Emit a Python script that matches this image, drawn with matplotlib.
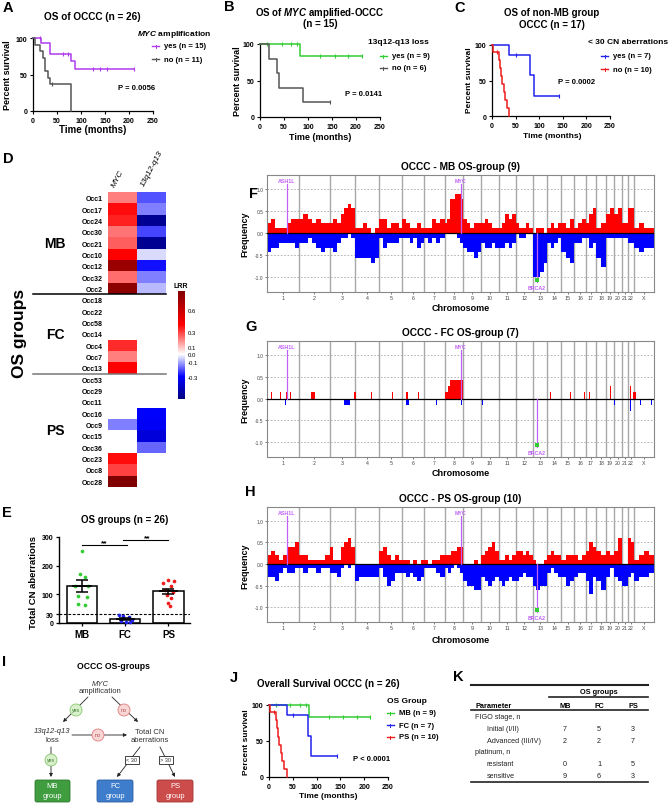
import numpy as np
import matplotlib.pyplot as plt
from matplotlib.lines import Line2D
from matplotlib.patches import Circle, FancyBboxPatch
from matplotlib.colors import LinearSegmentedColormap, Normalize
from matplotlib.transforms import blended_transform_factory

plt.rcParams['font.family'] = ['Liberation Sans', 'DejaVu Sans']
plt.rcParams['mathtext.fontset'] = 'custom'
plt.rcParams['mathtext.rm'] = 'Liberation Sans'
plt.rcParams['mathtext.it'] = 'Liberation Sans:italic'
plt.rcParams['mathtext.bf'] = 'Liberation Sans:bold'
if 'mathtext.bfit' in plt.rcParams:
    plt.rcParams['mathtext.bfit'] = 'Liberation Sans:italic:bold'

nan = np.nan

# ---------------- data ----------------
# Kaplan-Meier curves: event times (months), percent survival, censored times
A_yes_t = [0, 17, 36, 80, 87, 210]
A_yes_s = [100, 93.3, 77.8, 68.9, 57.4, 57.4]
A_yes_c = [14, 62, 72, 125, 140, 155, 210]
A_no_t = [0, 5, 15, 21, 26, 31, 35, 80]
A_no_s = [100, 90.9, 81.8, 72.7, 54.5, 45.5, 36.4, 0]
A_no_c = [40]

MB_t = [0, 83, 212]
MB_s = [100, 83.3, 83.3]
MB_c = [14, 45, 65, 78, 125, 156, 184, 212]
B_no_t = [0, 19, 36, 40, 89, 146]
B_no_s = [100, 80, 60, 40, 20, 20]
B_no_c = [146]
FC_t = [0, 37, 81, 88, 143]
FC_s = [100, 85.7, 57.1, 28.6, 28.6]
FC_c = [51, 143]
PS_t = [0, 3, 14, 16, 19, 22, 25, 28, 32, 37]
PS_s = [100, 90, 78.75, 67.5, 56.25, 45, 33.75, 22.5, 11.25, 0]
PS_c = [10]

time_ticks = [0, 50, 100, 150, 200, 250]
surv_ticks = [0, 50, 100]

# heatmap (log R ratio)
occ_ids = ['Occ1', 'Occ17', 'Occ24', 'Occ30', 'Occ21', 'Occ10', 'Occ12', 'Occ32', 'Occ2',
           'Occ18', 'Occ22', 'Occ58', 'Occ14', 'Occ4', 'Occ7', 'Occ13',
           'Occ53', 'Occ29', 'Occ11', 'Occ16', 'Occ9', 'Occ15', 'Occ36', 'Occ23', 'Occ8', 'Occ28']
myc_lrr = [0.2, 0.38, 0.35, 0.22, 0.25, 0.4, 0.75, 0.23, 0.8,
           nan, nan, nan, nan, 0.33, 0.2, 0.4,
           nan, nan, nan, nan, -0.15, nan, nan, 0.38, 0.3, 0.85]
q13_lrr = [-0.2, -0.15, -0.55, -0.22, -0.55, -0.04, -0.28, -0.15, -0.08,
           nan, nan, nan, nan, nan, nan, nan,
           nan, nan, nan, -0.3, -0.32, -0.38, -0.18, nan, nan, nan]
group_names = ['MB', 'FC', 'PS']
group_sizes = [9, 7, 10]
lrr_ticks = [0.6, 0.3, 0.1, 0.0, -0.1, -0.3]

# total CN aberrations
e_mb = [252, 172, 160, 130, 128, 95, 90, 67, 62]
e_fc = [28, 25, 22, 12, 8, 5, 3]
e_ps = [150, 145, 140, 128, 115, 108, 98, 88, 70, 58]
e_ticks = [0, 30, 100, 200, 300]

# genome
chrom_names = [str(i) for i in range(1, 23)] + ['X']
chrom_len = [249, 243, 198, 191, 181, 171, 159, 146, 141, 136, 135, 134,
             115, 107, 103, 90, 81, 78, 59, 63, 48, 51, 155]
gene_names = ['ASH1L', 'MYC', 'BRCA2']
gene_chr = [1, 8, 13]
gene_mb = [155, 128, 33]
gene_dir = [1, 1, -1]

mb_gain = [[0.22, 0.33, 0.11, 0.11, 0.11, 0.22, 0.33, 0.33], [0.33, 0.44, 0.33, 0.22, 0.33, 0.22, 0.22],
           [0.22, 0.33, 0.22, 0.44, 0.56, 0.67, 0.56], [0.11, 0.11, 0.22, 0.11, 0.0, 0.11],
           [0.33, 0.33, 0.11, 0.22, 0.22, 0.11], [0.33, 0.22, 0.11, 0.11, 0.22, 0.11],
           [0.11, 0.11, 0.33, 0.22, 0.33], [0.22, 0.33, 0.78, 0.78, 0.89, 0.89, 0.78],
           [0.33, 0.22, 0.11, 0.22, 0.22], [0.22, 0.33, 0.22, 0.11, 0.11], [0.11, 0.22, 0.44, 0.33, 0.44],
           [0.22, 0.11, 0.11, 0.22, 0.11], [0.0, 0.11, 0.11, 0.0], [0.11, 0.22, 0.11, 0.22],
           [0.22, 0.11, 0.33], [0.11, 0.22, 0.33], [0.22, 0.44, 0.56], [0.11, 0.22], [0.44, 0.56],
           [0.44, 0.56], [0.22], [0.56], [0.11, 0.22, 0.11, 0.11]]
mb_loss = [[-0.44, -0.33, -0.33, -0.22, -0.22, -0.22, -0.22, -0.33], [-0.22, -0.22, -0.11, -0.22, -0.33, -0.44, -0.33],
           [-0.33, -0.44, -0.22, -0.11, -0.11, 0.0, -0.11], [-0.56, -0.56, -0.56, -0.56, -0.67, -0.56],
           [-0.11, -0.33, -0.22, -0.22, -0.22, -0.11], [-0.11, -0.11, -0.22, -0.11, -0.33, -0.22],
           [-0.11, -0.22, -0.11, -0.22, -0.11], [0.0, 0.0, 0.0, 0.0, -0.11, -0.22],
           [-0.33, -0.44, -0.44, -0.56, -0.44], [-0.22, -0.33, -0.33, -0.22, -0.33], [-0.33, -0.33, -0.22, -0.33, -0.22],
           [0.0, -0.11, -0.11, 0.0, 0.0], [-1.0, -1.0, -0.89, -0.67], [-0.22, -0.33, -0.22, -0.11],
           [-0.44, -0.56, -0.67], [-0.22, -0.22, -0.11], [-0.11, -0.33, -0.22], [-0.56, -0.78], [-0.11, -0.11],
           [-0.11, -0.11], [-0.11], [-0.22], [-0.33, -0.44, -0.33, -0.33]]

# FC group: sparse segments (chromosome, start Mb, end Mb, frequency)
fc_gain = [(1, 33, 36, 0.14), (1, 103, 106, 0.14), (1, 150, 153, 0.14), (1, 182, 185, 0.14),
           (2, 98, 130, 0.14), (2, 210, 213, 0.14), (3, 56, 59, 0.14), (3, 103, 106, 0.14),
           (3, 192, 198, 0.14), (4, 0, 8, 0.14), (4, 127, 130, 0.14), (5, 27, 30, 0.14),
           (5, 100, 103, 0.14), (6, 30, 43, 0.14), (6, 123, 126, 0.14), (8, 5, 25, 0.14),
           (8, 25, 40, 0.28), (8, 40, 144, 0.43), (10, 52, 55, 0.14), (10, 105, 108, 0.14),
           (11, 47, 50, 0.14), (11, 112, 115, 0.14), (12, 56, 59, 0.14), (13, 21, 24, 0.14),
           (13, 92, 95, 0.14), (14, 21, 24, 0.14), (15, 67, 80, 0.14), (16, 41, 44, 0.14),
           (16, 80, 83, 0.14), (17, 29, 32, 0.14), (17, 69, 72, 0.28), (18, 27, 30, 0.14),
           (18, 66, 69, 0.14), (19, 28, 41, 0.28), (20, 47, 50, 0.28), (21, 10, 13, 0.14),
           (22, 19, 22, 0.28), (22, 41, 51, 0.14), ('X', 0, 16, 0.14)]
fc_loss = [(1, 145, 148, -0.14), (3, 71, 74, -0.14), (3, 109, 156, -0.14), (6, 30, 48, -0.14),
           (7, 93, 96, -0.14), (8, 130, 133, -0.14), (10, 8, 11, -0.14), (10, 34, 37, -0.14),
           (11, 55, 58, -0.14), (12, 30, 33, -0.14), (14, 102, 104, -0.43), (15, 19, 22, -0.14),
           (18, 14, 17, -0.14), (18, 53, 56, -0.14), (20, 7, 10, -0.14), (21, 18, 21, -0.14),
           (22, 19, 22, -0.28), ('X', 47, 50, -0.14), ('X', 133, 136, -0.14)]

ps_gain = [[0.2, 0.3, 0.2, 0.1, 0.2, 0.4, 0.4, 0.5], [0.2, 0.2, 0.1, 0.1, 0.1, 0.1, 0.2],
           [0.4, 0.1, 0.1, 0.4, 0.5, 0.6, 0.4], [0.0, 0.0, 0.0, 0.0, 0.0, 0.0],
           [0.3, 0.4, 0.2, 0.1, 0.2, 0.1], [0.1, 0.1, 0.0, 0.1, 0.0, 0.1], [0.1, 0.0, 0.1, 0.1, 0.2],
           [0.2, 0.2, 0.3, 0.3, 0.4, 0.4], [0.0, 0.0, 0.0, 0.1, 0.0], [0.2, 0.3, 0.4, 0.5, 0.3],
           [0.1, 0.1, 0.2, 0.1, 0.2], [0.3, 0.3, 0.2, 0.3, 0.2], [0.1, 0.0, 0.0, 0.1], [0.2, 0.3, 0.2, 0.2],
           [0.1, 0.2, 0.2], [0.2, 0.1, 0.2], [0.3, 0.5, 0.4], [0.3, 0.2], [0.3, 0.2], [0.3, 0.6],
           [0.0], [0.6, 0.5], [0.1, 0.2, 0.3, 0.2]]
ps_loss = [[-0.3, -0.3, -0.4, -0.2, -0.1, -0.2, -0.2, -0.1], [-0.1, -0.2, -0.1, -0.1, -0.2, -0.1, -0.1],
           [-0.2, -0.2, -0.3, -0.1, 0.0, -0.1, 0.0], [-0.4, -0.3, -0.3, -0.3, -0.3, -0.3],
           [-0.1, -0.3, -0.5, -0.4, -0.2, -0.2], [-0.2, -0.3, -0.2, -0.3, -0.4, -0.3],
           [-0.1, -0.1, -0.1, -0.2, -0.3], [-0.1, -0.2, -0.1, 0.0, -0.1, -0.2], [-0.4, -0.5, -0.5, -0.6, -0.6],
           [-0.3, -0.4, -0.5, -0.4, -0.3], [-0.4, -0.5, -0.4, -0.3, -0.4], [-0.4, -0.3, -0.2, -0.3, -0.3],
           [-0.5, -0.6, -0.5, -0.5], [-0.2, -0.1, -0.2, -0.3], [-0.3, -0.5, -0.4], [-0.3, -0.2, -0.2],
           [-0.4, -0.7, -0.3], [-0.4, -0.6], [-0.3, -0.1], [-0.3, -0.4], [-0.5], [-0.3, -0.2],
           [-0.4, -0.3, -0.3, -0.2]]

# table K
table_params = ['FIGO stage, n', 'Initial (I/II)', 'Advanced (III/IV)', 'platinum, n', 'resistant', 'sensitive']
table_mb = ['', '7', '2', '', '0', '9']
table_fc = ['', '5', '2', '', '1', '6']
table_ps = ['', '3', '7', '', '5', '3']

# ---------------- styling ----------------
PURPLE = '#B23AEE'
GRAY = '#555555'
GREEN = '#33CC33'
BLUE = '#2222EE'
RED = '#EE1C1C'
VIOLET = '#C060F8'

W, H = 669, 804
fig = plt.figure(figsize=(W / 100, H / 100), dpi=100)


def px_axes(l, t, r, b):
    return fig.add_axes([l / W, 1 - b / H, (r - l) / W, (b - t) / H])


def ftext(x, y, s, **kw):
    kw.setdefault('ha', 'center')
    kw.setdefault('va', 'center')
    return fig.text(x / W, 1 - y / H, s, **kw)


def fline(xs, ys, **kw):
    fig.add_artist(Line2D([x / W for x in xs], [1 - y / H for y in ys], transform=fig.transFigure, **kw))


def km_axes(l, t, r, b):
    ax = px_axes(l, t, r, b)
    ax.set_xlim(0, 250)
    ax.set_ylim(0, 100)
    for sp in ['top', 'right']:
        ax.spines[sp].set_visible(False)
    for sp in ['left', 'bottom']:
        ax.spines[sp].set_linewidth(0.9)
    ax.set_xticks(time_ticks, labels=[str(v) for v in time_ticks], fontsize=5, fontweight='bold')
    ax.set_yticks(surv_ticks, labels=[str(v) for v in surv_ticks], fontsize=5, fontweight='bold')
    ax.tick_params(length=2.5, width=0.8, pad=1.5)
    return ax


def km(ax, t, s, cens, color):
    ax.step(t, s, where='post', color=color, lw=1.1, clip_on=False, zorder=3)
    idx = np.searchsorted(t, cens, side='right') - 1
    ax.plot(cens, np.array(s)[idx], ls='none', marker='|', ms=3, mew=0.8,
            color=color, clip_on=False, zorder=3)


def km_legend(title, tx, ty, labels, colors, hx, ys):
    ftext(tx, ty, title, ha='left', fontsize=6, fontweight='bold')
    for lab, c, y in zip(labels, colors, ys):
        fline([hx, hx + 7], [y, y], color=c, lw=1)
        fline([hx + 3.5, hx + 3.5], [y - 1.5, y + 1.5], color=c, lw=0.7)
        ftext(hx + 12, y, lab, ha='left', fontsize=5.5, fontweight='bold')


# ---------------- A ----------------
axA = km_axes(33, 39, 153, 112)
km(axA, A_yes_t, A_yes_s, A_yes_c, PURPLE)
km(axA, A_no_t, A_no_s, A_no_c, GRAY)
ftext(92, 17, 'OS of OCCC (n = 26)', fontsize=7.2, fontweight='bold')
ftext(8, 75, 'Percent survival', rotation=90, fontsize=6.5, fontweight='bold')
ftext(93, 130, 'Time (months)', fontsize=7, fontweight='bold')
km_legend(r'$\mathbfit{MYC}$ amplification', 137, 34, ['yes (n = 15)', 'no (n = 11)'],
          [PURPLE, GRAY], 152, [47, 60])
ftext(118, 88, 'P = 0.0056', ha='left', fontsize=5.5, fontweight='bold')

# ---------------- B ----------------
axB = km_axes(260, 45, 380, 118)
km(axB, MB_t, MB_s, MB_c, GREEN)
km(axB, B_no_t, B_no_s, B_no_c, GRAY)
ftext(320, 13, r'OS of $\mathbfit{MYC}$ amplified-OCCC', fontsize=7, fontweight='bold')
ftext(320, 24, '(n = 15)', fontsize=7, fontweight='bold')
ftext(237, 81, 'Percent survival', rotation=90, fontsize=6.5, fontweight='bold')
ftext(320, 138, 'Time (months)', fontsize=6.5, fontweight='bold')
km_legend('13q12-q13 loss', 368, 42, ['yes (n = 9)', 'no (n = 6)'], [GREEN, GRAY], 380, [57, 69])
ftext(345, 94, 'P = 0.0141', ha='left', fontsize=5.5, fontweight='bold')

# ---------------- C ----------------
axC = km_axes(492, 46, 610, 117)
km(axC, FC_t, FC_s, FC_c, BLUE)
km(axC, PS_t, PS_s, PS_c, RED)
ftext(552, 13, 'OS of non-MB group', fontsize=7, fontweight='bold')
ftext(552, 25, 'OCCC (n = 17)', fontsize=7, fontweight='bold')
ftext(470, 80, 'Percent survival', rotation=90, fontsize=6, fontweight='bold')
ftext(552, 137, 'Time (months)', fontsize=6, fontweight='bold')
km_legend('< 30 CN aberrations', 588, 43, ['yes (n = 7)', 'no (n = 10)'], [BLUE, RED], 601, [57, 70])
ftext(558, 83, 'P = 0.0002', ha='left', fontsize=5.5, fontweight='bold')

# ---------------- J ----------------
axJ = km_axes(269, 706, 388, 778)
km(axJ, MB_t, MB_s, MB_c, GREEN)
km(axJ, FC_t, FC_s, FC_c, BLUE)
km(axJ, PS_t, PS_s, PS_c, RED)
ftext(328, 684, 'Overall Survival OCCC (n = 26)', fontsize=7, fontweight='bold')
ftext(246, 742, 'Percent survival', rotation=90, fontsize=6, fontweight='bold')
ftext(328, 797, 'Time (months)', fontsize=6, fontweight='bold')
km_legend('OS Group', 387, 702, ['MB (n = 9)', 'FC (n = 7)', 'PS (n = 10)'],
          [GREEN, BLUE, RED], 387, [714, 726, 738])
ftext(353, 760, 'P < 0.0001', ha='left', fontsize=5.5, fontweight='bold')

# ---------------- D heatmap ----------------
lrr_cmap = LinearSegmentedColormap.from_list(
    'lrr', [(0, '#000080'), (0.207, '#0000FF'), (0.414, '#FFFFFF'), (0.69, '#FF0000'), (1, '#800000')])
lrr_cmap.set_bad('white')
lrr_norm = Normalize(vmin=-0.6, vmax=0.85)
axD = px_axes(108, 193, 166, 488)
mat = np.ma.masked_invalid(np.array([myc_lrr, q13_lrr], dtype=float).T)
mesh = axD.pcolormesh(mat, cmap=lrr_cmap, norm=lrr_norm)
axD.set_xlim(0, 2)
axD.set_ylim(len(occ_ids), 0)
axD.set_yticks(np.arange(len(occ_ids)) + 0.5, labels=occ_ids, fontsize=5, fontweight='bold')
axD.set_xticks([])
axD.tick_params(length=0, pad=4)
for sp in axD.spines.values():
    sp.set_visible(False)
axD.text(0.3, -0.4, 'MYC', rotation=62, rotation_mode='anchor', ha='left', va='bottom',
         fontsize=6, style='italic')
axD.text(1.3, -0.4, '13q12-q13', rotation=62, rotation_mode='anchor', ha='left', va='bottom',
         fontsize=6, style='italic')
blend = blended_transform_factory(fig.transFigure, axD.transData)
bounds = np.cumsum(group_sizes)
starts = bounds - np.array(group_sizes)
for g, s0, s1 in zip(group_names, starts, bounds):
    axD.text(55 / W, (s0 + s1) / 2, g, transform=blend, ha='center', va='center',
             fontsize=10, fontweight='bold')
for b, col in zip(bounds[:-1], ['black', '#777777']):
    axD.add_artist(Line2D([33 / W, 166 / W], [b, b], transform=blend, color=col, lw=1.1, clip_on=False))
ftext(20, 333, 'OS groups', rotation=90, fontsize=12.5, fontweight='bold')

cax = px_axes(178, 292, 185, 400)
cb = fig.colorbar(mesh, cax=cax)
cb.set_ticks(lrr_ticks, labels=[f'{v:.1f}' for v in lrr_ticks])
cb.ax.tick_params(labelsize=4.3, length=0, pad=2)
cb.outline.set_visible(False)
ftext(181, 287, 'LRR', fontsize=5, fontweight='bold')

# ---------------- E ----------------
axE = px_axes(59, 538, 190, 624)
e_data = [e_mb, e_fc, e_ps]
e_cols = [GREEN, BLUE, RED]
e_jit = [[0.0, -0.05, 0.06, -0.16, 0.13, -0.09, 0.12, -0.1, 0.08],
         [-0.15, -0.05, 0.08, 0.15, -0.1, 0.02, 0.12],
         [0.0, 0.12, -0.12, 0.06, -0.08, 0.1, -0.04, 0.05, -0.02, 0.03]]
for i, (vals, c, jit) in enumerate(zip(e_data, e_cols, e_jit)):
    vals = np.array(vals, dtype=float)
    m = vals.mean()
    sem = vals.std(ddof=1) / np.sqrt(len(vals))
    axE.bar(i, m, width=0.7, facecolor='white', edgecolor='black', lw=1.1, zorder=1)
    axE.scatter(i + np.array(jit), vals, s=7, color=c, zorder=3, lw=0, clip_on=False)
    axE.errorbar(i, m, yerr=sem, color='black', capsize=4, capthick=1.1, lw=1.1, zorder=4)
    axE.plot([i - 0.2, i + 0.2], [m, m], color='black', lw=1.3, zorder=4)
axE.axhline(30, color='black', lw=0.8, ls=(0, (2.5, 1.5)), zorder=2)
axE.plot([0, 1.05], [272, 272], color='black', lw=0.8, clip_on=False)
axE.text(0.52, 279, '**', ha='center', va='center', fontsize=6, fontweight='bold')
axE.plot([0.95, 2], [290, 290], color='black', lw=0.8, clip_on=False)
axE.text(1.5, 298, '**', ha='center', va='center', fontsize=6, fontweight='bold')
axE.set_xlim(-0.53, 2.5)
axE.set_ylim(0, 300)
axE.set_xticks(range(3), labels=group_names, fontsize=7, fontweight='bold')
axE.set_yticks(e_ticks, labels=[str(v) for v in e_ticks], fontsize=5, fontweight='bold')
axE.tick_params(length=2.5, width=0.9, pad=1.5)
for sp in ['top', 'right']:
    axE.spines[sp].set_visible(False)
for sp in ['left', 'bottom']:
    axE.spines[sp].set_linewidth(1)
ftext(125, 520, 'OS groups (n = 26)', fontsize=7, fontweight='bold')
ftext(33, 583, 'Total CN aberrations', rotation=90, fontsize=6.8, fontweight='bold')

# ---------------- F / G / H genome ----------------
chrom_start = np.concatenate([[0], np.cumsum(chrom_len)[:-1]])
genome_end = float(np.sum(chrom_len))


def chrom_index(c):
    return chrom_names.index(str(c))


def genome_axes(l, t, r, b, title, ycen, ylab):
    ax = px_axes(l, t, r, b)
    ax.set_xlim(0, genome_end)
    ax.set_ylim(-1.34, 1.32)
    for v in [-1.0, -0.5, 0.5, 1.0]:
        ax.axhline(v, color='#aaaaaa', lw=0.6, ls=(0, (2, 2)), zorder=0)
    for x in chrom_start[1:]:
        ax.axvline(x, color='#a8a8a8', lw=1, zorder=1)
    ax.axhline(0, color='black', lw=0.9, zorder=5)
    ax.set_xticks(chrom_start + np.array(chrom_len) / 2, labels=chrom_names, fontsize=3.8)
    ax.set_yticks([-1.0, -0.5, 0.0, 0.5, 1.0], labels=['-1.0', '-0.5', '0.0', '0.5', '1.0'], fontsize=3.5)
    ax.tick_params(length=1.5, width=0.5, pad=1, colors='#444444')
    for sp in ax.spines.values():
        sp.set_color('#888888')
        sp.set_linewidth(0.8)
    ftext((l + r) / 2, t - 9, title, fontsize=7.3, fontweight='bold')
    ftext(245, ycen, 'Frequency', rotation=90, fontsize=6.5, fontweight='bold')
    ftext((l + r) / 2, ylab, 'Chromosome', fontsize=6.5, fontweight='bold')
    return ax


def binned(ax, prof, color):
    for i, vals in enumerate(prof):
        n = len(vals)
        w = chrom_len[i] / n
        ax.bar(chrom_start[i] + np.arange(n) * w, vals, width=w, align='edge', color=color, lw=0, zorder=2)


def segments(ax, segs, color):
    for c, s0, s1, f in segs:
        ax.bar(chrom_start[chrom_index(c)] + s0, f, width=s1 - s0, align='edge', color=color, lw=0, zorder=2)


def genes(ax):
    for name, c, p, d in zip(gene_names, gene_chr, gene_mb, gene_dir):
        g = chrom_start[chrom_index(c)] + p
        ax.plot([g, g], [0, 1.12 * d], color=VIOLET, lw=0.9, zorder=6)
        if d > 0:
            ax.text(g, 1.2, name, ha='center', va='center', fontsize=3.8, color=VIOLET, fontweight='bold')
        else:
            ax.plot(g, -1.06, marker='s', ms=2.2, color=GREEN, mew=0, zorder=7)
            ax.text(g, -1.24, name, ha='center', va='center', fontsize=3.8, color=VIOLET, fontweight='bold')


axF = genome_axes(267, 176, 654, 293, 'OCCC - MB OS-group (9)', 234, 309)
binned(axF, mb_gain, '#FF0000')
binned(axF, mb_loss, '#0000FF')
genes(axF)

axG = genome_axes(267, 342, 654, 458, 'OCCC - FC OS-group (7)', 400, 474)
segments(axG, fc_gain, '#FF0000')
segments(axG, fc_loss, '#0000FF')
genes(axG)

axH = genome_axes(267, 508, 654, 623, 'OCCC - PS OS-group (10)', 566, 641)
binned(axH, ps_gain, '#FF0000')
binned(axH, ps_loss, '#0000FF')
genes(axH)

# ---------------- I flowchart ----------------
axI = px_axes(0, 615, 230, 804)
axI.set_xlim(0, 230)
axI.set_ylim(804, 615)
axI.axis('off')
tc = '#333333'
ftext(113, 667, 'OCCC OS-groups', fontsize=6.2, fontweight='bold')
axI.text(100, 685, 'MYC', ha='center', va='center', fontsize=5.5, style='italic', color=tc)
axI.text(100, 692, 'amplification', ha='center', va='center', fontsize=5.5, color=tc)
axI.text(52, 732, '13q12-q13', ha='center', va='center', fontsize=5.5, style='italic', color=tc)
axI.text(52, 741, 'loss', ha='center', va='center', fontsize=5.5, color=tc)
axI.text(150, 733, 'Total CN', ha='center', va='center', fontsize=5.5, color=tc)
axI.text(150, 741, 'aberrations', ha='center', va='center', fontsize=5.5, color=tc)
arrows = [((88, 698), (63, 723)), ((112, 698), (138, 723)), ((72, 736), (127, 736)),
          ((51, 748), (51, 778)), ((140, 748), (117, 778)), ((160, 748), (175, 778))]
for (x0, y0), (x1, y1) in arrows:
    axI.annotate('', xy=(x1, y1), xytext=(x0, y0),
                 arrowprops=dict(arrowstyle='-|>', lw=0.6, color='#222222', mutation_scale=5,
                                 shrinkA=0, shrinkB=0))
circles = [(76, 711, 'yes'), (124, 711, 'no'), (98, 736, 'no'), (51, 761, 'yes')]
for x, y, lab in circles:
    if lab == 'yes':
        fc_, ec_, tcol = '#d8f0cc', '#86c56e', '#3c7a2c'
    else:
        fc_, ec_, tcol = '#f8d6d6', '#e07b7b', '#b04040'
    axI.add_patch(Circle((x, y), 6, facecolor=fc_, edgecolor=ec_, lw=0.6, zorder=5))
    axI.text(x, y, lab, ha='center', va='center', fontsize=3.8, color=tcol, zorder=6)
for x, y, lab in [(132, 761, '< 30'), (166, 761, '> 30')]:
    axI.text(x, y, lab, ha='center', va='center', fontsize=4, color=tc, zorder=6,
             bbox=dict(boxstyle='square,pad=0.25', fc='white', ec='#222222', lw=0.6))
for (x0, x1), col, ec, lab in [((35, 70), '#3f9c3f', '#2d7a2d', 'MB'),
                               ((97, 133), '#3e7ccc', '#2c5ea0', 'FC'),
                               ((157, 193), '#cc4b4b', '#a03434', 'PS')]:
    axI.add_patch(FancyBboxPatch((x0, 781), x1 - x0, 22, boxstyle='round,pad=0,rounding_size=2',
                                 facecolor=col, edgecolor=ec, lw=0.6))
    axI.text((x0 + x1) / 2, 787, lab, ha='center', va='center', fontsize=5.5, color='white')
    axI.text((x0 + x1) / 2, 797, 'group', ha='center', va='center', fontsize=5.5, color='white')

# ---------------- K table ----------------
fline([471, 648], [686, 686], color='#222222', lw=1.5)
ftext(599, 693, 'OS groups', fontsize=5.3, fontweight='bold')
fline([549, 648], [698, 698], color='#222222', lw=1.2)
ftext(475, 706, 'Parameter', ha='left', fontsize=5.3, fontweight='bold')
for x, g in zip([565, 599, 633], group_names):
    ftext(x, 706, g, fontsize=5.3, fontweight='bold')
fline([471, 648], [711, 711], color='#222222', lw=1.2)
row_y = [718, 730, 742, 753, 765, 777]
for i, (p, y) in enumerate(zip(table_params, row_y)):
    indent = 475 if table_mb[i] == '' else 487
    ftext(indent, y, p, ha='left', fontsize=5.2, color='#222222')
    for x, v in zip([565, 599, 633], [table_mb[i], table_fc[i], table_ps[i]]):
        ftext(x, y, v, fontsize=5.2, color='#222222')
fline([471, 648], [783, 783], color='#222222', lw=1.2)

# ---------------- panel letters ----------------
for lab, x, y in [('A', 8, 8), ('B', 229, 7), ('C', 460, 8), ('D', 8, 159), ('E', 7, 513),
                  ('F', 253, 194), ('G', 251, 327), ('H', 250, 492), ('I', 4, 662),
                  ('J', 234, 678), ('K', 458, 677)]:
    ftext(x, y, lab, fontsize=10.5, fontweight='bold')

fig.savefig('out.png', dpi=100)
